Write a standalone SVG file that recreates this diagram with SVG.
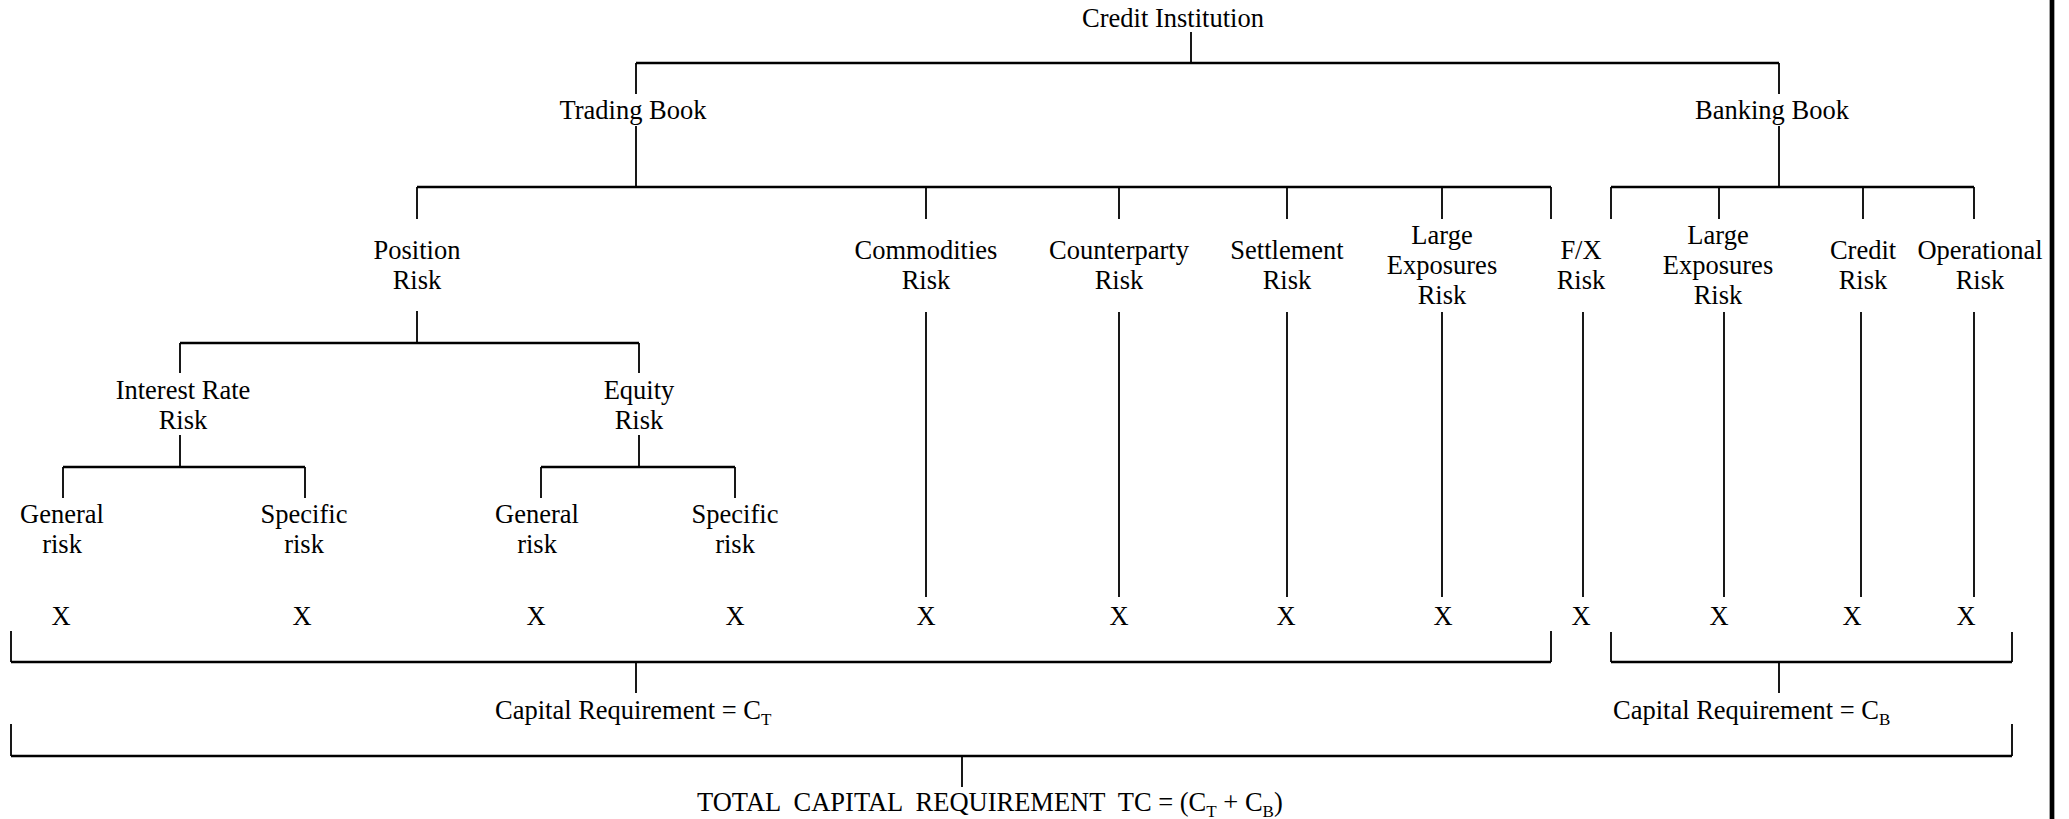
<svg xmlns="http://www.w3.org/2000/svg" width="2069" height="819" viewBox="0 0 2069 819">
<style>
text{font-family:"Liberation Serif","Times New Roman",serif;font-size:26.5px;fill:#000;text-anchor:middle}
.s{text-anchor:start}
.h{stroke:#000;stroke-width:2.6;fill:none}
.v{stroke:#000;stroke-width:1.8;fill:none}
.sub{font-size:17px}
</style>
<rect width="2069" height="819" fill="#fff"/>
<g id="connectors">
<path class="v" d="M1191 32V63M636 63V94M636 126V187M1779 63V94M1779 126V187"/>
<path class="h" d="M636 63H1779M417 187H1551M1611 187H1974"/>
<path class="v" d="M417 187V219M926 187V219M1119 187V219M1287 187V219M1442 187V219M1551 187V219M1611 187V219M1719 187V219M1863 187V219M1974 187V219"/>
<path class="v" d="M417 311V343M180 343V373M639 343V373"/>
<path class="h" d="M180 343H639"/>
<path class="v" d="M180 435V467M63 467V498M305 467V498M639 435V467M541 467V498M735 467V498"/>
<path class="h" d="M63 467H305M541 467H735"/>
<path class="v" d="M926 312V597M1119 312V597M1287 312V597M1442 312V597M1583 312V597M1724 312V597M1861 312V597M1974 312V597"/>
<path class="v" d="M11 631V662M1551 631V662M636 662V693M1611 632V662M2012 632V662M1779 662V693"/>
<path class="h" d="M11 662H1551M1611 662H2012"/>
<path class="v" d="M11 724V756M2012 724V756M962 756V787"/>
<path class="h" d="M11 756H2012"/>
<path d="M2052 0V819" stroke="#000" stroke-width="4.7"/>
</g>
<g id="credit-institution"><text x="1173" y="27">Credit Institution</text></g>
<g id="trading-book"><text x="633" y="119">Trading Book</text></g>
<g id="banking-book"><text x="1772" y="119">Banking Book</text></g>
<g id="position-risk"><text x="417" y="259">Position</text><text x="417" y="289">Risk</text></g>
<g id="commodities-risk"><text x="926" y="259">Commodities</text><text x="926" y="289">Risk</text></g>
<g id="counterparty-risk"><text x="1119" y="259">Counterparty</text><text x="1119" y="289">Risk</text></g>
<g id="settlement-risk"><text x="1287" y="259">Settlement</text><text x="1287" y="289">Risk</text></g>
<g id="large-exposures-trading"><text x="1442" y="244">Large</text><text x="1442" y="274">Exposures</text><text x="1442" y="304">Risk</text></g>
<g id="fx-risk"><text x="1581" y="259">F/X</text><text x="1581" y="289">Risk</text></g>
<g id="large-exposures-banking"><text x="1718" y="244">Large</text><text x="1718" y="274">Exposures</text><text x="1718" y="304">Risk</text></g>
<g id="credit-risk"><text x="1863" y="259">Credit</text><text x="1863" y="289">Risk</text></g>
<g id="operational-risk"><text x="1980" y="259">Operational</text><text x="1980" y="289">Risk</text></g>
<g id="interest-rate-risk"><text x="183" y="399">Interest Rate</text><text x="183" y="429">Risk</text></g>
<g id="equity-risk"><text x="639" y="399">Equity</text><text x="639" y="429">Risk</text></g>
<g id="general-risk-1"><text x="62" y="523">General</text><text x="62" y="553">risk</text></g>
<g id="specific-risk-1"><text x="304" y="523">Specific</text><text x="304" y="553">risk</text></g>
<g id="general-risk-2"><text x="537" y="523">General</text><text x="537" y="553">risk</text></g>
<g id="specific-risk-2"><text x="735" y="523">Specific</text><text x="735" y="553">risk</text></g>
<g id="x-marks">
<text x="61" y="625">X</text><text x="302" y="625">X</text><text x="536" y="625">X</text><text x="735" y="625">X</text>
<text x="926" y="625">X</text><text x="1119" y="625">X</text><text x="1286" y="625">X</text><text x="1443" y="625">X</text>
<text x="1581" y="625">X</text><text x="1719" y="625">X</text><text x="1852" y="625">X</text><text x="1966" y="625">X</text>
</g>
<g id="capital-ct"><text class="s" x="495" y="719">Capital Requirement = C<tspan class="sub" dy="6">T</tspan></text></g>
<g id="capital-cb"><text class="s" x="1613" y="719">Capital Requirement = C<tspan class="sub" dy="6">B</tspan></text></g>
<g id="total"><text class="s" x="697" y="811" xml:space="preserve">TOTAL  CAPITAL  REQUIREMENT  TC = (C<tspan class="sub" dy="6">T</tspan><tspan dy="-6"> + C</tspan><tspan class="sub" dy="6">B</tspan><tspan dy="-6">)</tspan></text></g>
</svg>
